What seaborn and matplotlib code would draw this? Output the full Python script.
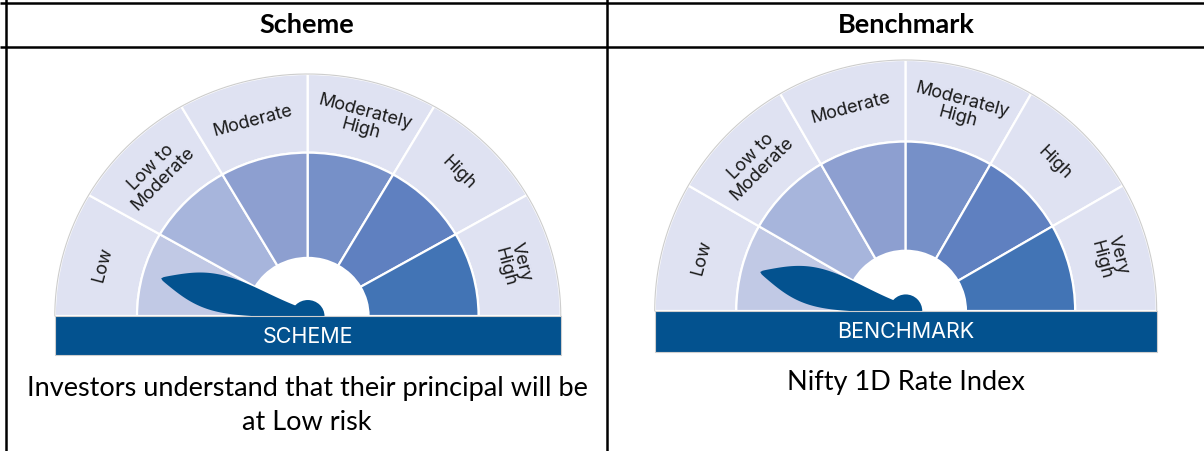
#!/usr/bin/env python3
"""Riskometer table: scheme vs benchmark gauges."""

import matplotlib
matplotlib.use("Agg")

import matplotlib.pyplot as plt
import numpy as np
import seaborn as sns
from matplotlib.patches import Circle, Polygon, Rectangle, Wedge
from matplotlib.transforms import Affine2D


# Chart data.
PANEL_TITLES = ["Scheme", "Benchmark"]
BAR_LABELS = ["SCHEME", "BENCHMARK"]
CAPTIONS = [
    "Investors understand that their principal will be\nat Low risk",
    "Nifty 1D Rate Index",
]
RISK_LEVELS = ["Low", "Low to\nModerate", "Moderate", "Moderately\nHigh", "High", "Very\nHigh"]
NEEDLE_LEVEL = [0, 0]  # index into RISK_LEVELS for each gauge

# Styles.
OUTER_COLOR = "#dfe2f2"
INNER_COLORS = ["#c1c9e5", "#a7b5dc", "#8d9fd0", "#7690c8", "#5f80c0", "#4274b5"]
DARK_BLUE = "#03528f"
LABEL_FONT = "Inter"
TABLE_FONT = "Lato"

# Gauge geometry in pixels: centre x, centre y (bar top), x radius, y radius.
GAUGES = [(307.8, 317.0, 253.0, 242.0), (905.7, 312.0, 251.0, 251.0)]
COL_CENTERS = [307, 906]


def needle_polygon(angle_deg, length=0.6):
    """Teardrop-shaped needle in unit gauge coordinates."""
    s = np.linspace(0, 1, 80)
    half = (0.024 + 0.054 * np.sin(np.pi * s ** 1.5)) * np.sqrt(np.clip(1 - s ** 6, 0, 1))
    u = np.concatenate([length * s, (length * s)[::-1]])
    v = np.concatenate([half, -half[::-1]])
    t = np.radians(angle_deg)
    x = u * np.cos(t) - v * np.sin(t)
    y = u * np.sin(t) + v * np.cos(t)
    return np.column_stack([x, y])


def draw_gauge(ax, geom, bar_label, level):
    cx, cy, rx, ry = geom
    local = Affine2D().scale(rx, -ry).translate(cx, cy) + ax.transData
    n = len(RISK_LEVELS)
    step = 180 / n
    r_mid, r_hole = 0.675, 0.24

    for i, label in enumerate(RISK_LEVELS):
        t2 = 180 - i * step
        t1 = t2 - step
        ax.add_patch(Wedge((0, 0), 1.0, t1, t2, width=1.0 - r_mid, facecolor=OUTER_COLOR,
                           edgecolor="white", linewidth=1.6, transform=local))
        ax.add_patch(Wedge((0, 0), r_mid, t1, t2, width=r_mid - r_hole,
                           facecolor=INNER_COLORS[i], edgecolor="white", linewidth=1.6,
                           transform=local))
        mid = np.radians((t1 + t2) / 2)
        ax.text(0.84 * np.cos(mid), 0.84 * np.sin(mid), label, transform=local,
                rotation=np.degrees(mid) - 90, ha="center", va="center",
                fontsize=13, family=LABEL_FONT, color="#1a1a1a", linespacing=1.0)

    # Thin grey outline of the dial.
    theta = np.linspace(0, np.pi, 200)
    ax.plot(np.cos(theta), np.sin(theta), color="#cdcdcd", linewidth=0.8, transform=local)

    # Needle pointing at the middle of the chosen segment.
    angle = 180 - (level + 0.5) * step
    ax.add_patch(Polygon(needle_polygon(angle), closed=True, facecolor=DARK_BLUE,
                         edgecolor="none", transform=local))
    ax.add_patch(Circle((0, 0), 0.066, facecolor=DARK_BLUE, edgecolor="none", transform=local))

    # Label bar.
    ax.add_patch(Rectangle((-1.0, -0.162), 2.0, 0.162, facecolor=DARK_BLUE,
                           edgecolor="#cfcfcf", linewidth=0.8, transform=local, zorder=3))
    ax.text(0, -0.081, bar_label, transform=local, ha="center", va="center",
            fontsize=15.5, family=LABEL_FONT, color="white", zorder=4)


def main() -> None:
    sns.set_theme(style="white")

    fig = plt.figure(figsize=(12.04, 4.52), dpi=100)
    ax = fig.add_axes([0, 0, 1, 1])
    ax.set_xlim(0, 1204)
    ax.set_ylim(452, 0)
    ax.axis("off")

    # Table grid.
    line = dict(color="black", linewidth=1.8, solid_capstyle="butt")
    ax.plot([0, 1204], [4, 4], **line)
    ax.plot([0, 1204], [48, 48], **line)
    ax.plot([6, 6], [0, 452], **line)
    ax.plot([606.7, 606.7], [0, 452], **line)

    for i, title in enumerate(PANEL_TITLES):
        ax.text(COL_CENTERS[i], 25, title, ha="center", va="center", fontsize=19.5,
                fontweight="bold", family=TABLE_FONT, color="black")
        draw_gauge(ax, GAUGES[i], BAR_LABELS[i], NEEDLE_LEVEL[i])

    ax.text(COL_CENTERS[0], 376, CAPTIONS[0], ha="center", va="top", fontsize=19.5,
            family=TABLE_FONT, color="black", linespacing=1.45)
    ax.text(COL_CENTERS[1], 370, CAPTIONS[1], ha="center", va="top", fontsize=19.5,
            family=TABLE_FONT, color="black")

    fig.savefig("out.png", dpi=100)


if __name__ == "__main__":
    main()
